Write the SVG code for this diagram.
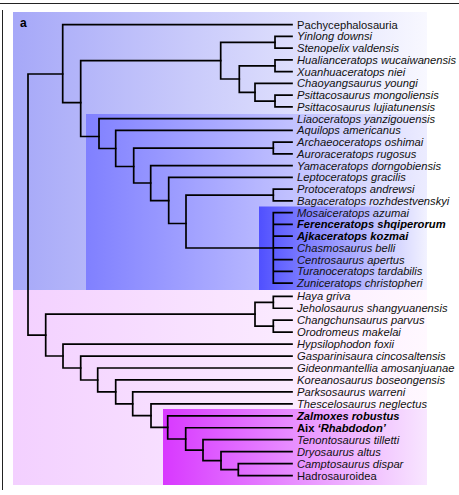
<svg xmlns="http://www.w3.org/2000/svg" width="459" height="495" viewBox="0 0 459 495">
<style>
text{font-family:"Liberation Sans",Arial,Helvetica,sans-serif;font-size:11.2px;fill:#111}
.i{font-style:italic}
.b{font-weight:bold;fill:#000}
#connectors path{fill:none;stroke:#000;stroke-width:1.7;stroke-linecap:square;stroke-linejoin:miter}
.frame{stroke:#222;stroke-width:1;fill:none}
</style>
<defs>
<linearGradient id="gB1" gradientUnits="userSpaceOnUse" x1="13" y1="0" x2="427" y2="0"><stop offset="0" stop-color="#a6a8f8"/><stop offset="1" stop-color="#f8f8ff"/></linearGradient>
<linearGradient id="gB2" gradientUnits="userSpaceOnUse" x1="86" y1="0" x2="427" y2="0"><stop offset="0" stop-color="#8080ff"/><stop offset="1" stop-color="#ececff"/></linearGradient>
<linearGradient id="gB3" gradientUnits="userSpaceOnUse" x1="259" y1="0" x2="427" y2="0"><stop offset="0" stop-color="#5050ff"/><stop offset="1" stop-color="#f2f2ff"/></linearGradient>
<linearGradient id="gP" gradientUnits="userSpaceOnUse" x1="13" y1="0" x2="427" y2="0"><stop offset="0" stop-color="#f3d0ff"/><stop offset="1" stop-color="#fff8ff"/></linearGradient>
<linearGradient id="gM" gradientUnits="userSpaceOnUse" x1="163" y1="0" x2="427" y2="0"><stop offset="0" stop-color="#d838ff"/><stop offset="1" stop-color="#f8e6ff"/></linearGradient>
</defs>
<rect width="459" height="495" fill="#fff"/>
<g id="backgrounds">
<rect x="13" y="12" width="414" height="278" fill="url(#gB1)"/>
<rect x="86" y="114" width="341" height="176" fill="url(#gB2)"/>
<rect x="259" y="206.5" width="168" height="83.5" fill="url(#gB3)"/>
<rect x="13" y="290" width="414" height="195" fill="url(#gP)"/>
<rect x="163" y="409" width="264" height="76" fill="url(#gM)"/>
</g>
<g id="frame">
<path class="frame" d="M0 3.5H459M2.5 10V490"/>
</g>
<text x="20" y="26.5" class="b" style="font-size:12px">a</text>
<g id="connectors">
<path d="M28 74V335.1M28 74H62.7M28 335.1H45.7"/>
<path d="M62.7 24.7V102.7M62.7 24.7H292M62.7 102.7H80.7"/>
<path d="M80.7 60.7V136.5M80.7 60.7H220.7M80.7 136.5H99"/>
<path d="M220.7 42.3V79M220.7 42.3H275M220.7 79H239.3"/>
<path d="M275 36.45V48.2M275 36.45H292M275 48.2H292"/>
<path d="M239.3 65.8V92.3M239.3 65.8H275M239.3 92.3H255"/>
<path d="M275 59.95V71.7M275 59.95H292M275 71.7H292"/>
<path d="M255 83.45V101.1M255 83.45H292M255 101.1H275"/>
<path d="M275 95.2V106.95M275 95.2H292M275 106.95H292"/>
<path d="M99 118.7V148.5M99 118.7H292M99 148.5H115.7"/>
<path d="M115.7 130.45V166.5M115.7 130.45H292M115.7 166.5H133.7"/>
<path d="M133.7 148.1V183M133.7 148.1H273.3M133.7 183H150.7"/>
<path d="M273.3 142.2V153.95M273.3 142.2H292M273.3 153.95H292"/>
<path d="M150.7 165.7V200.7M150.7 165.7H292M150.7 200.7H168.7"/>
<path d="M168.7 177.45V223.5M168.7 177.45H292M168.7 223.5H186"/>
<path d="M186 195.1V248M186 195.1H273.3M186 248H273.3"/>
<path d="M273.3 189.2V200.95M273.3 189.2H292M273.3 200.95H292"/>
<path d="M273.3 212.7V283.2M273.3 212.7H292M273.3 224.45H292M273.3 236.2H292M273.3 247.95H292M273.3 259.7H292M273.3 271.45H292M273.3 283.2H292"/>
<path d="M45.7 314.2V356M45.7 314.2H255M45.7 356H63"/>
<path d="M255 302.3V326.2M255 302.3H273.3M255 326.2H273.3"/>
<path d="M273.3 296.3V308.25M273.3 296.3H292M273.3 308.25H292"/>
<path d="M273.3 320.2V332.15M273.3 320.2H292M273.3 332.15H292"/>
<path d="M63 344.1V368M63 344.1H292M63 368H80.7"/>
<path d="M80.7 356.05V380M80.7 356.05H292M80.7 380H97.7"/>
<path d="M97.7 368V391.9M97.7 368H292M97.7 391.9H115.7"/>
<path d="M115.7 379.95V403.8M115.7 379.95H292M115.7 403.8H132.7"/>
<path d="M132.7 391.9V415.6M132.7 391.9H292M132.7 415.6H151"/>
<path d="M151 403.85V427.4M151 403.85H292M151 427.4H167.7"/>
<path d="M167.7 415.8V439M167.7 415.8H292M167.7 439H185.7"/>
<path d="M185.7 427.75V450.2M185.7 427.75H292M185.7 450.2H203"/>
<path d="M203 439.7V460.6M203 439.7H292M203 460.6H221"/>
<path d="M221 451.65V469.6M221 451.65H292M221 469.6H238.3"/>
<path d="M238.3 463.6V475.55M238.3 463.6H292M238.3 475.55H292"/>
</g>
<g id="t01"><text x="297" y="28.7">Pachycephalosauria</text></g>
<g id="t02"><text x="297" y="40.45" class="i">Yinlong downsi</text></g>
<g id="t03"><text x="297" y="52.2" class="i">Stenopelix valdensis</text></g>
<g id="t04"><text x="297" y="63.95" class="i">Hualianceratops wucaiwanensis</text></g>
<g id="t05"><text x="297" y="75.7" class="i">Xuanhuaceratops niei</text></g>
<g id="t06"><text x="297" y="87.45" class="i">Chaoyangsaurus youngi</text></g>
<g id="t07"><text x="297" y="99.2" class="i">Psittacosaurus mongoliensis</text></g>
<g id="t08"><text x="297" y="110.95" class="i">Psittacosaurus lujiatunensis</text></g>
<g id="t09"><text x="297" y="122.7" class="i">Liaoceratops yanzigouensis</text></g>
<g id="t10"><text x="297" y="134.45" class="i">Aquilops americanus</text></g>
<g id="t11"><text x="297" y="146.2" class="i">Archaeoceratops oshimai</text></g>
<g id="t12"><text x="297" y="157.95" class="i">Auroraceratops rugosus</text></g>
<g id="t13"><text x="297" y="169.7" class="i">Yamaceratops dorngobiensis</text></g>
<g id="t14"><text x="297" y="181.45" class="i">Leptoceratops gracilis</text></g>
<g id="t15"><text x="297" y="193.2" class="i">Protoceratops andrewsi</text></g>
<g id="t16"><text x="297" y="204.95" class="i">Bagaceratops rozhdestvenskyi</text></g>
<g id="t17"><text x="297" y="216.7" class="i">Mosaiceratops azumai</text></g>
<g id="t18"><text x="297" y="228.45" class="i b">Ferenceratops shqiperorum</text></g>
<g id="t19"><text x="297" y="240.2" class="i b">Ajkaceratops kozmai</text></g>
<g id="t20"><text x="297" y="251.95" class="i">Chasmosaurus belli</text></g>
<g id="t21"><text x="297" y="263.7" class="i">Centrosaurus apertus</text></g>
<g id="t22"><text x="297" y="275.45" class="i">Turanoceratops tardabilis</text></g>
<g id="t23"><text x="297" y="287.2" class="i">Zuniceratops christopheri</text></g>
<g id="t24"><text x="297" y="300.3" class="i">Haya griva</text></g>
<g id="t25"><text x="297" y="312.25" class="i">Jeholosaurus shangyuanensis</text></g>
<g id="t26"><text x="297" y="324.2" class="i">Changchunsaurus parvus</text></g>
<g id="t27"><text x="297" y="336.15" class="i">Orodromeus makelai</text></g>
<g id="t28"><text x="297" y="348.1" class="i">Hypsilophodon foxii</text></g>
<g id="t29"><text x="297" y="360.05" class="i">Gasparinisaura cincosaltensis</text></g>
<g id="t30"><text x="297" y="372" class="i">Gideonmantellia amosanjuanae</text></g>
<g id="t31"><text x="297" y="383.95" class="i">Koreanosaurus boseongensis</text></g>
<g id="t32"><text x="297" y="395.9" class="i">Parksosaurus warreni</text></g>
<g id="t33"><text x="297" y="407.85" class="i">Thescelosaurus neglectus</text></g>
<g id="t34"><text x="297" y="419.8" class="i b">Zalmoxes robustus</text></g>
<g id="t35"><text x="297" y="431.75" class="b">Aix <tspan class="i">‘Rhabdodon’</tspan></text></g>
<g id="t36"><text x="297" y="443.7" class="i">Tenontosaurus tilletti</text></g>
<g id="t37"><text x="297" y="455.65" class="i">Dryosaurus altus</text></g>
<g id="t38"><text x="297" y="467.6" class="i">Camptosaurus dispar</text></g>
<g id="t39"><text x="297" y="479.55">Hadrosauroidea</text></g>
</svg>
